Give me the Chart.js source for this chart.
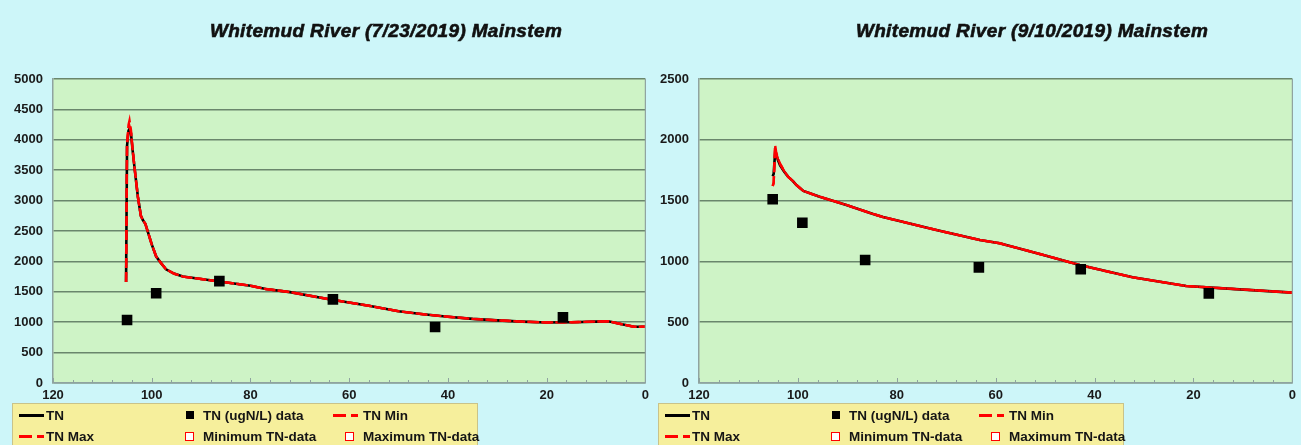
<!DOCTYPE html>
<html><head><meta charset="utf-8">
<script src="https://cdn.jsdelivr.net/npm/chart.js@4/dist/chart.umd.min.js"></script>
<style>
html,body{margin:0;padding:0;background:#cdf6f9;}
#wrap{position:relative;width:1301px;height:445px;overflow:hidden;background:#cdf6f9;font-family:"Liberation Sans",Arial,sans-serif;}
.panel{position:absolute;top:0;height:445px;}
.panel canvas{position:absolute;left:0;top:0;}
.title{position:absolute;top:20px;left:0;width:772px;text-align:center;font-weight:bold;font-style:italic;font-size:19px;letter-spacing:0.35px;line-height:22px;color:#111;white-space:nowrap;-webkit-text-stroke:0.6px #111;}
.legend{position:absolute;left:12px;top:403px;width:466px;height:45px;background:#f6ef9c;border:1px solid #c9c38a;box-sizing:border-box;}
.li{position:absolute;font-weight:bold;font-size:13.5px;line-height:15px;color:#151515;white-space:nowrap;}
.sym{position:absolute;}
</style>
</head><body>
<div id="wrap">
  <div class="panel" id="p1" style="left:0;width:654px;">
    <canvas id="c1" width="654" height="445"></canvas>
    <div class="title" id="t1"></div>
    <div class="legend" id="l1"></div>
  </div>
  <div class="panel" id="p2" style="left:646px;width:655px;">
    <canvas id="c2" width="655" height="445"></canvas>
    <div class="title" id="t2"></div>
    <div class="legend" id="l2"></div>
  </div>
</div>
<script>
// ---------- data ----------
const titleLeft = "Whitemud River (7/23/2019) Mainstem";
const titleRight = "Whitemud River (9/10/2019) Mainstem";
const seriesNames = ["TN", "TN (ugN/L) data", "TN Min", "TN Max", "Minimum TN-data", "Maximum TN-data"];

// Left chart (7/23/2019)
const distL = [105.2, 105.0, 104.7, 104.5, 104.2, 103.9, 103.5, 102.8, 102.2, 101.8, 101.3, 100.8, 100.0, 99.1, 98.0, 97.1, 95.5, 93.7, 90.0, 86.3, 80.0, 76.9, 72.0, 63.5, 56.0, 50.0, 45.0, 40.0, 35.0, 30.0, 25.0, 20.0, 15.0, 10.0, 7.5, 5.0, 2.3, 0];
const tnL    = [1660, 3900, 4150, 4180, 4100, 3850, 3550, 3060, 2750, 2680, 2620, 2490, 2280, 2080, 1960, 1870, 1800, 1750, 1710, 1670, 1600, 1545, 1495, 1370, 1270, 1180, 1130, 1090, 1055, 1030, 1010, 995, 1000, 1010, 1015, 970, 925, 925];
const tnMinL = [1660, 3900, 4170, 4220, 4120, 3860, 3550, 3060, 2750, 2680, 2620, 2490, 2280, 2080, 1960, 1870, 1800, 1750, 1710, 1670, 1600, 1545, 1495, 1370, 1270, 1180, 1130, 1090, 1055, 1030, 1010, 995, 1000, 1010, 1015, 970, 925, 925];
const tnMaxL = [1660, 3950, 4250, 4320, 4160, 3870, 3560, 3060, 2750, 2680, 2620, 2490, 2280, 2080, 1960, 1870, 1800, 1750, 1710, 1670, 1600, 1545, 1495, 1370, 1270, 1180, 1130, 1090, 1055, 1030, 1010, 995, 1000, 1010, 1015, 970, 925, 925];
const obsDistL = [105.0, 99.1, 86.3, 63.3, 42.6, 16.7];
const obsTnL   = [1036, 1475, 1675, 1376, 920, 1080];

// Right chart (9/10/2019)
const distR  = [105.1, 104.9, 104.6, 104.4, 104.0, 103.6, 102.8, 102.0, 101.0, 100.3, 98.9, 97.0, 95.6, 90.2, 84.8, 82.8, 72.0, 63.2, 59.2, 51.1, 43.0, 32.3, 21.5, 10.7, 0];
const tnR    = [1700, 1720, 1900, 1880, 1830, 1790, 1740, 1697, 1660, 1628, 1580, 1552, 1532, 1464, 1390, 1365, 1258, 1176, 1149, 1061, 970, 869, 798, 770, 743];
const tnMinR = [1620, 1640, 1940, 1890, 1835, 1800, 1745, 1697, 1660, 1628, 1580, 1552, 1532, 1464, 1390, 1365, 1258, 1176, 1149, 1061, 970, 869, 798, 770, 743];
const tnMaxR = [1620, 1650, 1957, 1900, 1840, 1805, 1745, 1697, 1660, 1628, 1580, 1552, 1532, 1464, 1390, 1365, 1258, 1176, 1149, 1061, 970, 869, 798, 770, 743];
const obsDistR = [105.1, 99.1, 86.4, 63.4, 42.8, 16.9];
const obsTnR   = [1511, 1318, 1011, 951, 935, 737];

const xTicksMin = 0, xTicksMax = 120, xStep = 20, xMinorStep = 4;

// ---------- helpers ----------
function pts(xs, ys){ return xs.map((x,i)=>({x:x, y:ys[i]})); }

const areaPlugin = {
  id:'area',
  beforeDraw(chart){
    const {ctx, chartArea:a} = chart;
    ctx.save();
    ctx.fillStyle = '#cef3c6';
    ctx.fillRect(a.left, a.top, a.right-a.left, a.bottom-a.top);
    ctx.restore();
  },
  afterDatasetsDraw(chart){
    const {ctx, chartArea:a, scales} = chart;
    ctx.save();
    ctx.strokeStyle = '#8fa3a0';
    ctx.lineWidth = 1.2;
    ctx.beginPath();
    ctx.moveTo(a.right, a.top); ctx.lineTo(a.right, a.bottom);
    ctx.stroke();
    ctx.lineWidth = 1;
    for(let v = xTicksMin; v <= xTicksMax; v += xMinorStep){
      const px = Math.round(scales.x.getPixelForValue(v)) + 0.5;
      const len = (v % xStep === 0) ? 5 : 3;
      ctx.beginPath(); ctx.moveTo(px, a.bottom); ctx.lineTo(px, a.bottom - len); ctx.stroke();
    }
    ctx.restore();
  }
};

const fam = '"Liberation Sans", Arial, sans-serif';
const xFont = {family:fam, size:13, weight:'bold'};
const yFont = {family:fam, size:13, weight:'bold'};

function makeChart(canvasId, padRight, dist, tn, tnMin, tnMax, obsD, obsV, yMax){
  const datasets = [
    {label:seriesNames[0], data:pts(dist, tn), showLine:true, pointRadius:0, borderColor:'#000', borderWidth:2.6, order:4, legendSym:'line'},
    {label:seriesNames[1], data:pts(obsD, obsV), showLine:false, pointStyle:'rect', pointRadius:7.5, backgroundColor:'#000', borderColor:'#000', borderWidth:0, order:0, legendSym:'square'},
    {label:seriesNames[2], data:pts(dist, tnMin), showLine:true, pointRadius:0, borderColor:'#ff0000', borderWidth:2.4, borderDash:[10,4], order:3, legendSym:'dash'},
    {label:seriesNames[3], data:pts(dist, tnMax), showLine:true, pointRadius:0, borderColor:'#ff0000', borderWidth:2.4, borderDash:[10,4], order:2, legendSym:'dash'},
    {label:seriesNames[4], data:[], showLine:false, pointStyle:'rect', pointRadius:5, backgroundColor:'#fff', borderColor:'#ff0000', order:1, legendSym:'hollow'},
    {label:seriesNames[5], data:[], showLine:false, pointStyle:'rect', pointRadius:5, backgroundColor:'#fff', borderColor:'#ff0000', order:1, legendSym:'hollow'}
  ];
  return new Chart(document.getElementById(canvasId), {
    type:'scatter',
    data:{datasets},
    options:{
      responsive:false, animation:false,
      layout:{padding:{top:79, right:padRight, bottom:0, left:0}},
      plugins:{legend:{display:false}, tooltip:{enabled:false}, title:{display:false}},
      elements:{line:{tension:0}},
      scales:{
        x:{type:'linear', reverse:true, min:xTicksMin, max:xTicksMax,
           ticks:{stepSize:xStep, font:xFont, color:'#1a1a1a', padding:5, maxRotation:0, callback:(v)=>String(v)},
           grid:{display:false, drawTicks:false},
           border:{display:true, color:'#8fa3a0', width:1.5},
           afterFit(s){ s.height = 62; }},
        y:{type:'linear', min:0, max:yMax,
           ticks:{stepSize:500, font:yFont, color:'#1a1a1a', padding:10, callback:(v)=>String(v)},
           grid:{color:'#6a866c', lineWidth:1.5, drawTicks:false},
           border:{display:true, color:'#8fa3a0', width:1.5},
           afterFit(s){ s.width = 53; }}
      }
    },
    plugins:[areaPlugin]
  });
}

function buildLegend(chart, el){
  const cols = [{sx:6, tx:33}, {sx:173, tx:190}, {sx:320, tx:350}];
  const rows = [11, 32];
  chart.data.datasets.forEach((ds, i)=>{
    const c = cols[i%3], cy = rows[Math.floor(i/3)];
    const t = document.createElement('div');
    t.className = 'li'; t.textContent = ds.label;
    t.style.left = c.tx + 'px'; t.style.top = (cy-7.5) + 'px';
    el.appendChild(t);
    const add = (css)=>{ const s=document.createElement('div'); s.className='sym'; Object.assign(s.style, css); el.appendChild(s); };
    if(ds.legendSym==='line'){
      add({left:c.sx+'px', top:(cy-1.5)+'px', width:'25px', height:'3px', background:'#000'});
    } else if(ds.legendSym==='dash'){
      add({left:c.sx+'px', top:(cy-1)+'px', width:'13px', height:'2.5px', background:'#ff0000'});
      add({left:(c.sx+18)+'px', top:(cy-1)+'px', width:'7px', height:'2.5px', background:'#ff0000'});
    } else if(ds.legendSym==='square'){
      add({left:(c.tx-17)+'px', top:(cy-4)+'px', width:'8px', height:'8px', background:'#000'});
    } else if(ds.legendSym==='hollow'){
      add({left:(c.tx-18)+'px', top:(cy-4.5)+'px', width:'7px', height:'7px', background:'#fff', border:'1px solid #ff0000'});
    }
  });
}

document.getElementById('t1').textContent = titleLeft;
document.getElementById('t2').textContent = titleRight;
const ch1 = makeChart('c1', 6, distL, tnL, tnMinL, tnMaxL, obsDistL, obsTnL, 5000);
const ch2 = makeChart('c2', 8, distR, tnR, tnMinR, tnMaxR, obsDistR, obsTnR, 2500);
buildLegend(ch1, document.getElementById('l1'));
buildLegend(ch2, document.getElementById('l2'));
</script>
</body></html>
